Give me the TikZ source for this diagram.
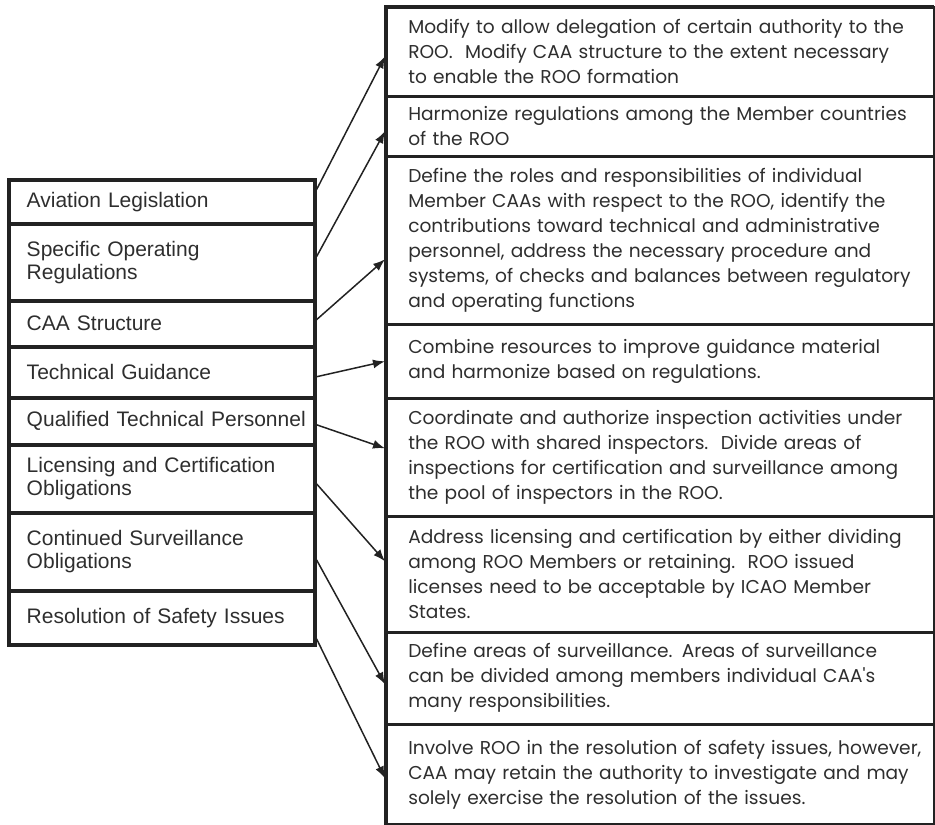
\documentclass[tikz,border=0pt]{standalone}
\usepackage{fontspec}
\setmainfont{Liberation Sans}
\newfontfamily\geofont{Poppins}
\usetikzlibrary{arrows.meta}

\definecolor{ink}{HTML}{222222}
\definecolor{txt}{HTML}{2E2E2E}

\tikzset{
  leftbox/.style={draw=ink, line width=3.5pt, anchor=north west,
    minimum width=306pt, inner xsep=18pt, inner ysep=0pt, text width=270pt,
    align=left, font=\fontsize{21}{23}\selectfont, text=txt},
  rightbox/.style={draw=ink, line width=2.6pt, anchor=north west,
    minimum width=548pt, inner xsep=22pt, inner ysep=0pt, text width=504pt,
    align=left, font=\geofont\fontsize{18.6}{25}\selectfont, text=txt},
  spine/.style={draw=ink, line width=4pt},
  link/.style={draw=ink, line width=1.5pt, -{Latex[length=12pt,width=9pt]}}
}

\begin{document}
\begin{tikzpicture}[x=1pt,y=-1pt]
\useasboundingbox (0,0) rectangle (935,825);

% left column: regulatory areas
\node[leftbox, minimum height=44pt] (a1) at (7,178) {Aviation Legislation};
\node[leftbox, minimum height=77pt] (a2) at (7,222) {Specific Operating\\Regulations};
\node[leftbox, minimum height=46pt] (a3) at (7,299) {CAA Structure};
\node[leftbox, minimum height=51pt] (a4) at (7,345) {Technical Guidance};
\node[leftbox, minimum height=47pt] (a5) at (7,396) {\mbox{Qualified Technical Personnel}};
\node[leftbox, minimum height=68pt] (a6) at (7,443) {Licensing and Certification\\Obligations};
\node[leftbox, minimum height=78pt] (a7) at (7,511) {Continued Surveillance\\Obligations};
\node[leftbox, minimum height=54pt] (a8) at (7,589) {Resolution of Safety Issues};

% right column: ROO actions
\node[rightbox, minimum height=89pt] (b1) at (385,6)
  {\mbox{Modify to allow delegation of certain authority to the}\\
   \mbox{ROO.\ \ Modify CAA structure to the extent necessary}\\
   \mbox{to enable the ROO formation}};
\node[rightbox, minimum height=60pt] (b2) at (385,95)
  {\mbox{Harmonize regulations among the Member countries}\\
   \mbox{of the ROO}};
\node[rightbox, minimum height=168pt] (b3) at (385,155)
  {\mbox{Define the roles and responsibilities of individual}\\
   \mbox{Member CAAs with respect to the ROO, identify the}\\
   \mbox{contributions toward technical and administrative}\\
   \mbox{personnel, address the necessary procedure and}\\
   \mbox{systems, of checks and balances between regulatory}\\
   \mbox{and operating functions}};
\node[rightbox, minimum height=74pt] (b4) at (385,323)
  {\mbox{Combine resources to improve guidance material}\\
   \mbox{and harmonize based on regulations.}};
\node[rightbox, minimum height=118pt] (b5) at (385,397)
  {\mbox{Coordinate and authorize inspection activities under}\\
   \mbox{the ROO with shared inspectors.\ \ Divide areas of}\\
   \mbox{inspections for certification and surveillance among}\\
   \mbox{the pool of inspectors in the ROO.}};
\node[rightbox, minimum height=116pt] (b6) at (385,515)
  {\mbox{Address licensing and certification by either dividing}\\
   \mbox{among ROO Members or retaining.\ \ ROO issued}\\
   \mbox{licenses need to be acceptable by ICAO Member}\\
   \mbox{States.}};
\node[rightbox, minimum height=92pt] (b7) at (385,631)
  {\mbox{Define areas of surveillance. Areas of surveillance}\\
   \mbox{can be divided among members individual CAA's}\\
   \mbox{many responsibilities.}};
\node[rightbox, minimum height=100pt] (b8) at (385,723)
  {\mbox{Involve ROO in the resolution of safety issues, however,}\\
   \mbox{CAA may retain the authority to investigate and may}\\
   \mbox{solely exercise the resolution of the issues.}};

% heavier left edge and top of the right column
\draw[spine] ([xshift=1.3pt]b8.south west) -- ([xshift=1.3pt,yshift=-1.3pt]b1.north west)
  -- ([xshift=-1.3pt,yshift=-1.3pt]b1.north east);

% connectors
\draw[link] ([yshift=12pt]a1.east) -- ([yshift=-4.5pt]b1.west);
\draw[link] ([yshift=5.5pt]a2.east) -- ([yshift=-5pt]b2.west);
\draw[link] ([yshift=4pt]a3.east) -- ([yshift=-19pt]b3.west);
\draw[link] ([yshift=-4.5pt]a4.east) -- (b4.west);
\draw[link] ([yshift=-3.5pt]a5.east) -- ([yshift=9pt]b5.west);
\draw[link] ([yshift=-5pt]a6.east) -- ([yshift=13pt]b6.west);
\draw[link] ([yshift=-8pt]a7.east) -- ([yshift=-6pt]b7.west);
\draw[link] ([yshift=-21pt]a8.east) -- ([yshift=-4pt]b8.west);
\end{tikzpicture}
\end{document}
